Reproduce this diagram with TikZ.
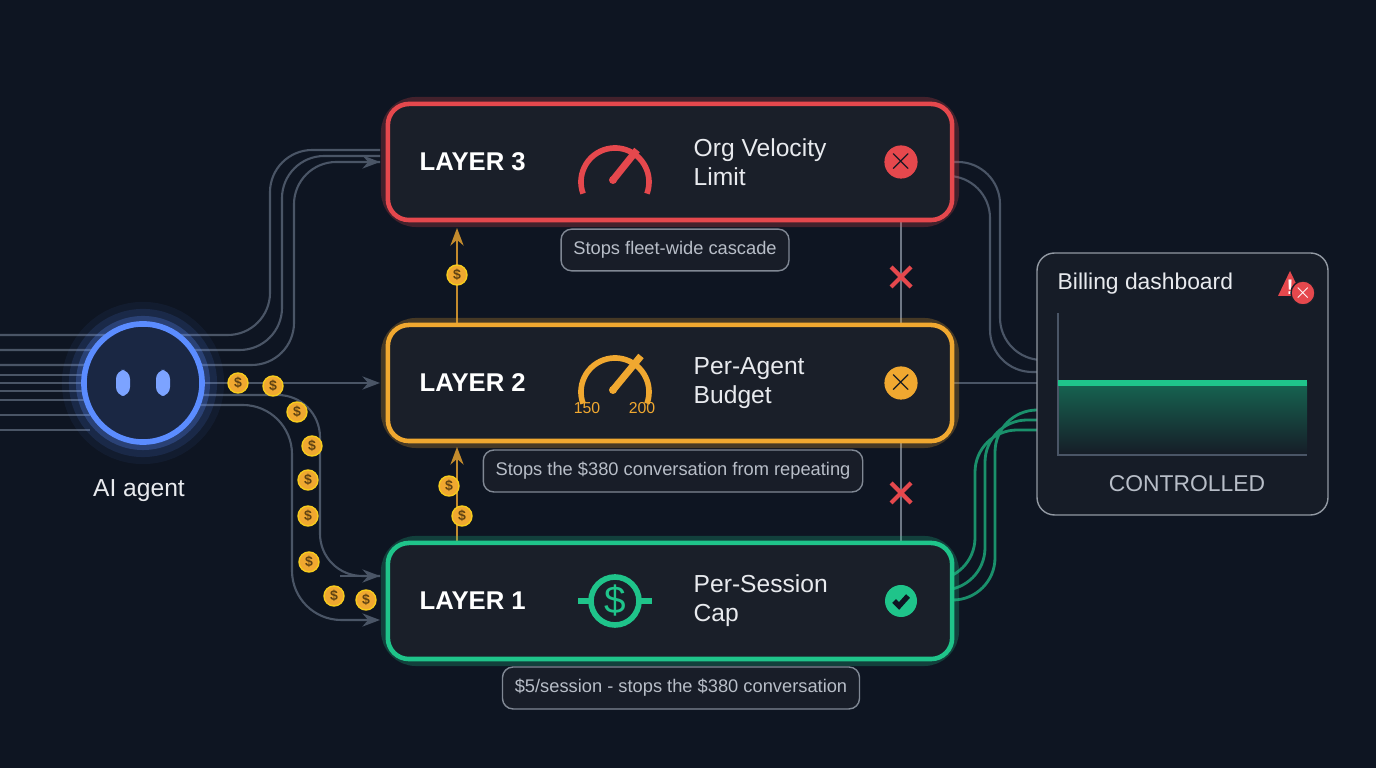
\documentclass[tikz,border=0pt]{standalone}
\usepackage{fontspec}
\setmainfont{Liberation Sans}
\usetikzlibrary{positioning,arrows.meta}
\definecolor{bg}{HTML}{0E1522}
\definecolor{wire}{HTML}{4A5566}
\definecolor{redc}{HTML}{E5484D}
\definecolor{orc}{HTML}{F0A830}
\definecolor{grc}{HTML}{1FC48A}
\definecolor{bluc}{HTML}{5B8CFF}
\definecolor{boxbg}{HTML}{1A1F29}
\definecolor{txt}{HTML}{E8EAEE}
\definecolor{cap}{HTML}{B8BEC8}
\tikzset{
  layer/.style={draw=#1, line width=1.3pt, rounded corners=6pt, fill=boxbg,
    minimum width=5.64cm, minimum height=1.16cm},
  glow/.style={draw=#1, line width=4pt, rounded corners=8pt, opacity=0.25},
  tag/.style={font=\fontsize{7.3}{8}\selectfont\bfseries, text=white, anchor=west, inner sep=0pt},
  ttl/.style={font=\fontsize{7}{8.2}\selectfont, text=txt, anchor=west, align=left, inner sep=0pt},
  capbox/.style={draw=wire!70, fill=boxbg!80!bg, rounded corners=3pt, text=cap,
    font=\fontsize{5.2}{6}\selectfont, inner sep=3.5pt},
  coin/.style={circle, fill=orc, draw=orc!60!yellow, minimum size=0.2cm, inner sep=0pt,
    font=\fontsize{4}{4}\selectfont\bfseries, text=orc!40!black},
  wr/.style={draw=wire, line width=0.6pt},
  xmark/.style={draw=redc, line width=1.2pt}
}
\begin{document}
\begin{tikzpicture}[x=0.01cm,y=-0.01cm]
\fill[bg] (0,0) rectangle (1376,768);
\useasboundingbox (0,0) rectangle (1376,768);

% wires from agent
\foreach \y/\o in {335/0,350/12,365/24}{
  \draw[wr, rounded corners=12pt] (0,\y) -- ({270+\o},\y) -- ({270+\o},{150+\o/2}) -- (380,{150+\o/2});
}
\foreach \y in {375,383,391,400,415,430}{ \draw[wr] (0,\y) -- (90,\y); }
\draw[wr,-{Stealth[length=5pt]}] (200,383) -- (380,383);
\draw[wr,rounded corners=12pt] (200,395) -- (320,395) -- (320,576) -- (380,576);
\draw[wr,-{Stealth[length=5pt]}] (340,576) -- (380,576);
\draw[wr,-{Stealth[length=5pt]},rounded corners=14pt] (200,405) -- (292,405) -- (292,620) -- (380,620);
\draw[wr,-{Stealth[length=5pt]}] (350,162) -- (380,162);

% wires to dashboard
\draw[wr,rounded corners=12pt] (952,162) -- (1000,162) -- (1000,360) -- (1037,360);
\draw[wr,rounded corners=12pt] (952,176) -- (990,176) -- (990,372) -- (1037,372);
\draw[wr] (952,383) -- (1037,383);
\foreach \o in {0,10,20}{
  \draw[grc!70!bg, line width=0.8pt, rounded corners=12pt] (952,{600-\o}) -- ({995-\o},{600-\o}) -- ({995-\o},{410+\o}) -- (1037,{410+\o});
}

% agent
\foreach \w/\op in {12/0.06,8/0.12,4/0.25}{
  \draw[bluc, line width=\w pt, opacity=\op] (143,383) circle (60);
}
\node[circle, draw=bluc, line width=1.6pt, fill=bg!85!bluc, minimum size=1.18cm] (agent) at (143,383) {};
\fill[bluc!80!white, rounded corners=2.5pt] (116,370) rectangle (130,396);
\fill[bluc!80!white, rounded corners=2.5pt] (156,370) rectangle (170,396);
\node[text=txt, font=\fontsize{7}{8}\selectfont] (agentlbl) at (139,491) {AI agent};

% vertical links
\draw[wire!80, line width=0.6pt] (901,220) -- (901,326);
\draw[wire!80, line width=0.6pt] (901,441) -- (901,543);
\draw[orc!80!bg, line width=0.6pt, -{Stealth[length=5pt]}] (457,326) -- (457,228);
\draw[orc!80!bg, line width=0.6pt, -{Stealth[length=5pt]}] (457,543) -- (457,447);
\foreach \y in {277,493}{
  \draw[xmark] (891,{\y-10}) -- (911,{\y+10});
  \draw[xmark] (891,{\y+10}) -- (911,{\y-10});
}

% layers
\foreach \c/\y in {redc/162,orc/383,grc/601}{
  \draw[glow=\c] (388,{\y-58}) rectangle (952,{\y+58});
}
\node[layer=redc] (l3) at (670,162) {};
\node[layer=orc] (l2) at (670,383) {};
\node[layer=grc] (l1) at (670,601) {};
\node[tag] (l3t) at (419,162) {LAYER 3};
\node[tag] (l2t) at (419,383) {LAYER 2};
\node[tag] (l1t) at (419,601) {LAYER 1};
\node[ttl] (l3n) at (693,162) {Org Velocity\\Limit};
\node[ttl] (l2n) at (693,383) {Per-Agent\\Budget};
\node[ttl] (l1n) at (693,601) {Per-Session\\Cap};

% icons
\draw[redc, line width=1.6pt] (615,182) ++(-200:34) arc (-200:20:34);
\draw[redc, line width=2pt] (613,180) -- (637,150);
\fill[redc] (613,180) circle (4);
\draw[orc, line width=1.6pt] (615,392) ++(-200:34) arc (-200:20:34);
\draw[orc, line width=2pt] (613,390) -- (641,356);
\fill[orc] (613,390) circle (4);
\node[text=orc, font=\fontsize{4.5}{5}\selectfont] at (587,408) {150};
\node[text=orc, font=\fontsize{4.5}{5}\selectfont] at (642,408) {200};
\draw[grc, line width=1.6pt] (615,601) circle (24);
\draw[grc, line width=1.6pt] (578,601) -- (592,601) (638,601) -- (652,601);
\node[text=grc, font=\fontsize{11}{11}\selectfont] at (615,601) {\$};

% status
\node[circle, fill=redc, minimum size=0.32cm, inner sep=0pt, text=bg, font=\bfseries\fontsize{9}{9}\selectfont] (s3) at (901,162) {$\times$};
\node[circle, fill=orc, minimum size=0.32cm, inner sep=0pt, text=bg, font=\bfseries\fontsize{9}{9}\selectfont] (s2) at (901,383) {$\times$};
\node[circle, fill=grc, minimum size=0.32cm, inner sep=0pt] (s1) at (901,601) {};
\draw[bg, line width=1.5pt] (894,601) -- (899,606) -- (908,596);

% captions
\node[capbox] (c3) at (675,250) {Stops fleet-wide cascade};
\node[capbox] (c2) at (673,471) {Stops the \$380 conversation from repeating};
\node[capbox] (c1) at (681,688) {\$5/session - stops the \$380 conversation};

% coins
\foreach \x/\y [count=\i] in {238/383,273/386,297/412,312/446,308/480,308/516,309/562,334/596,366/600,449/486,462/516,457/275}{
  \node[coin] (coin\i) at (\x,\y) {\$};
}

% dashboard
\draw[wire!60, fill=boxbg!70!bg, rounded corners=5pt] (1037,253) rectangle (1328,515);
\node[text=txt, font=\fontsize{6.5}{7}\selectfont, anchor=west, inner sep=0pt] (dt) at (1057,284) {Billing dashboard};
\fill[redc] (1290,271) -- (1278,296) -- (1302,296) -- cycle;
\node[text=white, font=\bfseries\fontsize{6}{6}\selectfont] at (1290,287) {!};
\node[circle, fill=redc, draw=boxbg, minimum size=0.14cm, inner sep=0pt, text=white, font=\fontsize{4}{4}\selectfont] at (1303,293) {$\times$};
\shade[top color=grc!45!bg, bottom color=boxbg!70!bg] (1058,383) rectangle (1307,455);
\draw[wire] (1058,313) -- (1058,455) -- (1307,455);
\draw[grc, line width=1.6pt] (1058,383) -- (1307,383);
\node[text=cap, font=\fontsize{6.5}{7}\selectfont] (dc) at (1187,484) {CONTROLLED};
\end{tikzpicture}
\end{document}
